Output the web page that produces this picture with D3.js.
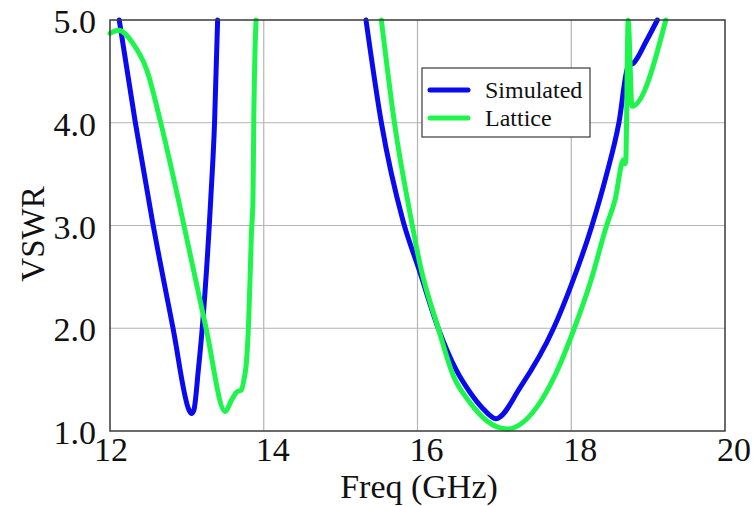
<!DOCTYPE html>
<html>
<head>
<meta charset="utf-8">
<script src="https://cdn.jsdelivr.net/npm/d3@7"></script>
<style>
  html, body { margin: 0; padding: 0; background: #fff; }
  svg text { font-family: "Liberation Serif", "Times New Roman", serif; fill: #111; }
</style>
</head>
<body>
<svg id="chart" width="756" height="506"></svg>
<script>
// Axis ticks
const freqTicks = [12, 14, 16, 18, 20];
const vswrTicks = [1, 2, 3, 4, 5];

// Simulated VSWR, lower band
const simLowFreq = [12.12, 12.33, 12.55, 12.82, 13.03, 13.06, 13.09, 13.15, 13.20, 13.31, 13.36, 13.40];
const simLowVswr = [5.0, 4.0, 3.05, 2.0, 1.20, 1.17, 1.20, 1.60, 2.0, 3.25, 4.0, 5.0];

// Simulated VSWR, upper band
const simHighFreq = [15.33, 15.53, 15.81, 16.03, 16.27, 16.50, 16.68, 16.85, 17.02, 17.34, 17.77, 18.00, 18.27, 18.45, 18.62, 18.74, 18.81, 18.98, 19.12];
const simHighVswr = [5.0, 4.0, 3.05, 2.55, 2.0, 1.60, 1.38, 1.22, 1.12, 1.43, 2.0, 2.42, 3.0, 3.47, 4.0, 4.55, 4.58, 4.80, 5.0];

// Lattice model VSWR, lower band
const latLowFreq = [12.0, 12.11, 12.30, 12.48, 12.66, 12.89, 13.25, 13.50, 13.58, 13.65, 13.71, 13.74, 13.78, 13.80, 13.82, 13.84, 13.86, 13.87, 13.90];
const latLowVswr = [4.87, 4.90, 4.77, 4.51, 4.0, 3.25, 2.0, 1.19, 1.30, 1.38, 1.40, 1.49, 1.72, 2.0, 2.44, 2.93, 3.25, 4.0, 5.0];

// Lattice model VSWR, upper band
const latHighFreq = [15.53, 15.70, 15.92, 16.03, 16.27, 16.47, 16.68, 16.90, 17.17, 17.55, 17.80, 18.04, 18.25, 18.46, 18.57, 18.68, 18.70, 18.71, 18.74, 18.79, 19.23];
const latHighVswr = [5.0, 4.0, 3.05, 2.63, 2.0, 1.53, 1.28, 1.10, 1.02, 1.23, 1.56, 2.0, 2.45, 3.0, 3.25, 3.64, 3.60, 3.64, 5.0, 4.16, 5.0];

const seriesNames = ["Simulated", "Lattice"];
const seriesColors = ["#0a0af0", "#1ef54c"];

const svg = d3.select("#chart");
const plot = { left: 110, right: 725, top: 20, bottom: 431 };

const x = d3.scaleLinear().domain([12, 20]).range([plot.left, plot.right]);
const y = d3.scaleLinear().domain([1, 5]).range([plot.bottom, plot.top]);

// Grid lines
const grid = svg.append("g");
grid.selectAll("line.vx")
  .data(freqTicks.slice(1, -1))
  .join("line")
  .attr("x1", d => x(d)).attr("x2", d => x(d))
  .attr("y1", plot.top).attr("y2", plot.bottom)
  .attr("stroke", "#b4b4b4").attr("stroke-width", 1.2);
grid.selectAll("line.hy")
  .data(vswrTicks.slice(1, -1))
  .join("line")
  .attr("x1", plot.left).attr("x2", plot.right)
  .attr("y1", d => y(d)).attr("y2", d => y(d))
  .attr("stroke", "#b4b4b4").attr("stroke-width", 1.2);

// Curves
const zip = (fs, vs) => fs.map((f, i) => [f, vs[i]]);
const line = d3.line().x(d => x(d[0])).y(d => y(d[1])).curve(d3.curveMonotoneX);

const curves = [
  { data: zip(simLowFreq, simLowVswr), color: seriesColors[0] },
  { data: zip(simHighFreq, simHighVswr), color: seriesColors[0] },
  { data: zip(latLowFreq, latLowVswr), color: seriesColors[1] },
  { data: zip(latHighFreq, latHighVswr), color: seriesColors[1] }
];

svg.append("g").selectAll("path")
  .data(curves)
  .join("path")
  .attr("d", d => line(d.data))
  .attr("fill", "none")
  .attr("stroke", d => d.color)
  .attr("stroke-width", 5)
  .attr("stroke-linejoin", "round")
  .attr("stroke-linecap", "round");

// Plot frame
svg.append("rect")
  .attr("x", plot.left).attr("y", plot.top)
  .attr("width", plot.right - plot.left).attr("height", plot.bottom - plot.top)
  .attr("fill", "none").attr("stroke", "#3a3a3a").attr("stroke-width", 1.5);

// Tick labels
svg.append("g").selectAll("text")
  .data(freqTicks)
  .join("text")
  .attr("x", (d, i) => x(d) + (i === 0 ? 1 : 9))
  .attr("y", 461)
  .attr("text-anchor", "middle")
  .attr("font-size", 34)
  .text(d => d);

svg.append("g").selectAll("text")
  .data(vswrTicks)
  .join("text")
  .attr("x", 96)
  .attr("y", d => y(d) + 13)
  .attr("text-anchor", "end")
  .attr("font-size", 34)
  .text(d => d.toFixed(1));

// Axis titles
svg.append("text")
  .attr("x", 419).attr("y", 498)
  .attr("text-anchor", "middle")
  .attr("font-size", 34)
  .text("Freq (GHz)");

svg.append("text")
  .attr("transform", "translate(44,234) rotate(-90)")
  .attr("text-anchor", "middle")
  .attr("font-size", 33)
  .text("VSWR");

// Legend
const legend = svg.append("g").attr("transform", "translate(422,68)");
legend.append("rect")
  .attr("width", 168).attr("height", 69)
  .attr("fill", "#fff").attr("stroke", "#3a3a3a").attr("stroke-width", 1.2);
const items = legend.selectAll("g.item")
  .data(seriesNames)
  .join("g")
  .attr("transform", (d, i) => `translate(0,${22 + i * 28})`);
items.append("line")
  .attr("x1", 8).attr("x2", 46)
  .attr("stroke", (d, i) => seriesColors[i])
  .attr("stroke-width", 5)
  .attr("stroke-linecap", "round");
items.append("text")
  .attr("x", 63).attr("y", 8)
  .attr("font-size", 24)
  .text(d => d);
</script>
</body>
</html>
